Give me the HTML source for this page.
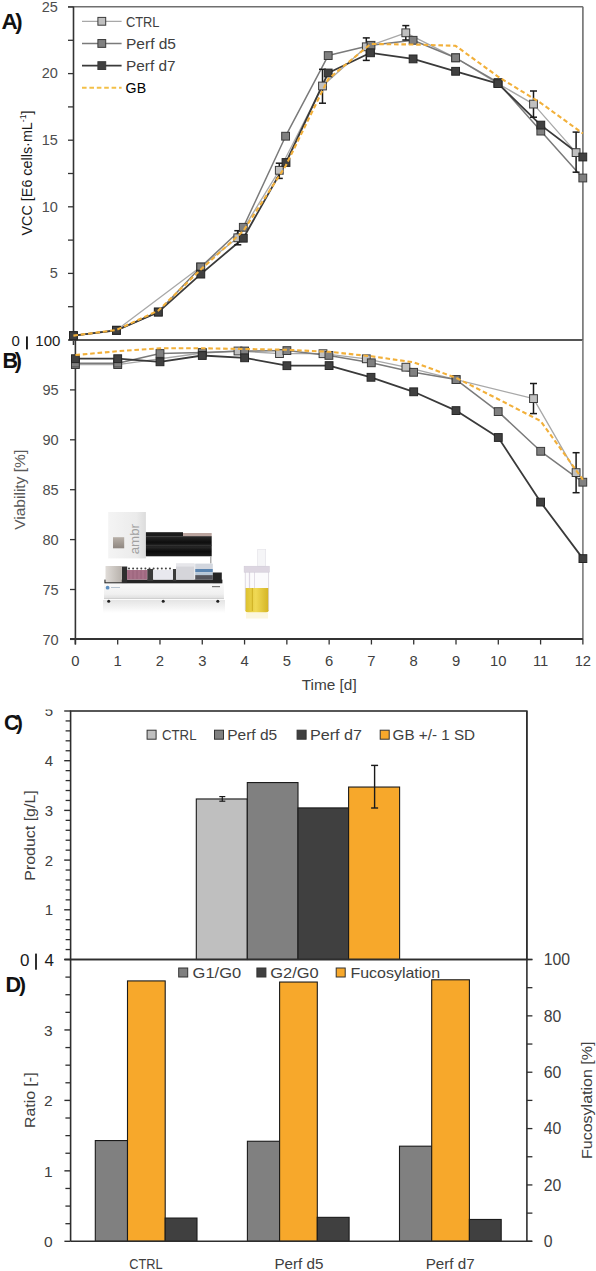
<!DOCTYPE html>
<html><head><meta charset="utf-8"><title>Figure</title>
<style>
html,body{margin:0;padding:0;background:#fff;}
body{width:596px;height:1271px;overflow:hidden;}
svg{display:block;font-family:"Liberation Sans", sans-serif;}
</style></head>
<body>
<svg width="596" height="1271" viewBox="0 0 596 1271">
<rect x="0" y="0" width="596" height="1271" fill="#ffffff"/>
<line x1="68" y1="6.8" x2="582.9" y2="6.8" stroke="#6f6f6f" stroke-width="1.6" />
<line x1="582.9" y1="6.8" x2="582.9" y2="340" stroke="#6f6f6f" stroke-width="1.6" />
<line x1="73.5" y1="6.8" x2="73.5" y2="345" stroke="#333333" stroke-width="1.6" />
<line x1="68" y1="340" x2="73.5" y2="340" stroke="#333333" stroke-width="1.3" />
<line x1="68" y1="306.7" x2="73.5" y2="306.7" stroke="#333333" stroke-width="1.3" />
<line x1="68" y1="273.4" x2="73.5" y2="273.4" stroke="#333333" stroke-width="1.3" />
<line x1="68" y1="240.1" x2="73.5" y2="240.1" stroke="#333333" stroke-width="1.3" />
<line x1="68" y1="206.8" x2="73.5" y2="206.8" stroke="#333333" stroke-width="1.3" />
<line x1="68" y1="173.5" x2="73.5" y2="173.5" stroke="#333333" stroke-width="1.3" />
<line x1="68" y1="140.2" x2="73.5" y2="140.2" stroke="#333333" stroke-width="1.3" />
<line x1="68" y1="106.9" x2="73.5" y2="106.9" stroke="#333333" stroke-width="1.3" />
<line x1="68" y1="73.6" x2="73.5" y2="73.6" stroke="#333333" stroke-width="1.3" />
<line x1="68" y1="40.3" x2="73.5" y2="40.3" stroke="#333333" stroke-width="1.3" />
<line x1="68" y1="7" x2="73.5" y2="7" stroke="#333333" stroke-width="1.3" />
<text x="57.8" y="11.7" font-size="14.5" fill="#4d4d4d" text-anchor="end" >25</text>
<text x="57.8" y="78.3" font-size="14.5" fill="#4d4d4d" text-anchor="end" >20</text>
<text x="57.8" y="144.9" font-size="14.5" fill="#4d4d4d" text-anchor="end" >15</text>
<text x="57.8" y="211.5" font-size="14.5" fill="#4d4d4d" text-anchor="end" >10</text>
<text x="57.8" y="278.1" font-size="14.5" fill="#4d4d4d" text-anchor="end" >5</text>
<text x="0" y="0" font-size="15" fill="#1a1a1a" transform="translate(31.8 173) rotate(-90)" text-anchor="middle" textLength="125" lengthAdjust="spacingAndGlyphs">VCC [E6 cells·mL<tspan font-size="9" dy="-6">-1</tspan><tspan dy="6">]</tspan></text>
<text x="1.6" y="29.4" font-size="22" fill="#111" text-anchor="start" font-weight="bold" textLength="16.2" lengthAdjust="spacingAndGlyphs" >A</text>
<text x="15.3" y="29.2" font-size="22" fill="#111" text-anchor="start" font-weight="bold" >)</text>
<line x1="68.5" y1="340" x2="582.9" y2="340" stroke="#555555" stroke-width="2" />
<text x="11.5" y="345.8" font-size="15" fill="#1a1a1a" text-anchor="start" >0</text>
<rect x="26" y="336.4" width="1.9" height="13" fill="#1a1a1a" />
<text x="35.3" y="345.8" font-size="15" fill="#1a1a1a" text-anchor="start" >100</text>
<polyline points="73.4,335.7 116.4,330.3 200.5,267 237.8,237.8 279.3,170.3 322.5,86 366.3,46.8 405.8,32.8 455.6,57.8 498,83.6 533.5,104.1 576.1,152.6" fill="none" stroke="#a8a8a8" stroke-width="1.3" stroke-linejoin="round" />
<polyline points="73.4,335.7 116.4,330.3 158.3,312 200.8,267 243.3,227.3 285.6,136.2 328.2,55.6 371,45.3 413.1,40.3 455.6,57.8 498,82.5 540.8,131.1 582.8,178" fill="none" stroke="#7a7a7a" stroke-width="1.5" stroke-linejoin="round" />
<polyline points="73.4,335.7 116.4,330.3 158.3,312.1 200.8,274.1 243.3,238.2 286,162.5 328.2,73 370.5,52.8 413.1,58.9 455.6,71.3 498,83.6 540.8,125.1 582.8,157" fill="none" stroke="#3a3a3a" stroke-width="1.8" stroke-linejoin="round" />
<line x1="237.8" y1="230.7" x2="237.8" y2="244.8" stroke="#1a1a1a" stroke-width="1.5" />
<line x1="234.3" y1="230.7" x2="241.3" y2="230.7" stroke="#1a1a1a" stroke-width="1.5" />
<line x1="234.3" y1="244.8" x2="241.3" y2="244.8" stroke="#1a1a1a" stroke-width="1.5" />
<line x1="279.3" y1="163.2" x2="279.3" y2="178.4" stroke="#1a1a1a" stroke-width="1.5" />
<line x1="275.8" y1="163.2" x2="282.8" y2="163.2" stroke="#1a1a1a" stroke-width="1.5" />
<line x1="275.8" y1="178.4" x2="282.8" y2="178.4" stroke="#1a1a1a" stroke-width="1.5" />
<line x1="322.5" y1="69.3" x2="322.5" y2="103.2" stroke="#1a1a1a" stroke-width="1.5" />
<line x1="319" y1="69.3" x2="326" y2="69.3" stroke="#1a1a1a" stroke-width="1.5" />
<line x1="319" y1="103.2" x2="326" y2="103.2" stroke="#1a1a1a" stroke-width="1.5" />
<line x1="366.3" y1="37.9" x2="366.3" y2="60.4" stroke="#1a1a1a" stroke-width="1.5" />
<line x1="362.8" y1="37.9" x2="369.8" y2="37.9" stroke="#1a1a1a" stroke-width="1.5" />
<line x1="362.8" y1="60.4" x2="369.8" y2="60.4" stroke="#1a1a1a" stroke-width="1.5" />
<line x1="405.8" y1="25.6" x2="405.8" y2="40" stroke="#1a1a1a" stroke-width="1.5" />
<line x1="402.3" y1="25.6" x2="409.3" y2="25.6" stroke="#1a1a1a" stroke-width="1.5" />
<line x1="402.3" y1="40" x2="409.3" y2="40" stroke="#1a1a1a" stroke-width="1.5" />
<line x1="533.5" y1="91" x2="533.5" y2="117.2" stroke="#1a1a1a" stroke-width="1.5" />
<line x1="530" y1="91" x2="537" y2="91" stroke="#1a1a1a" stroke-width="1.5" />
<line x1="530" y1="117.2" x2="537" y2="117.2" stroke="#1a1a1a" stroke-width="1.5" />
<line x1="576.1" y1="132.1" x2="576.1" y2="172.2" stroke="#1a1a1a" stroke-width="1.5" />
<line x1="572.6" y1="132.1" x2="579.6" y2="132.1" stroke="#1a1a1a" stroke-width="1.5" />
<line x1="572.6" y1="172.2" x2="579.6" y2="172.2" stroke="#1a1a1a" stroke-width="1.5" />
<rect x="69.5" y="331.8" width="7.8" height="7.8" fill="#c0c0c0" stroke="#3a3a3a" stroke-width="1" />
<rect x="112.5" y="326.4" width="7.8" height="7.8" fill="#c0c0c0" stroke="#3a3a3a" stroke-width="1" />
<rect x="196.6" y="263.1" width="7.8" height="7.8" fill="#c0c0c0" stroke="#3a3a3a" stroke-width="1" />
<rect x="233.9" y="233.9" width="7.8" height="7.8" fill="#c0c0c0" stroke="#3a3a3a" stroke-width="1" />
<rect x="275.4" y="166.4" width="7.8" height="7.8" fill="#c0c0c0" stroke="#3a3a3a" stroke-width="1" />
<rect x="318.6" y="82.1" width="7.8" height="7.8" fill="#c0c0c0" stroke="#3a3a3a" stroke-width="1" />
<rect x="362.4" y="42.9" width="7.8" height="7.8" fill="#c0c0c0" stroke="#3a3a3a" stroke-width="1" />
<rect x="401.9" y="28.9" width="7.8" height="7.8" fill="#c0c0c0" stroke="#3a3a3a" stroke-width="1" />
<rect x="451.7" y="53.9" width="7.8" height="7.8" fill="#c0c0c0" stroke="#3a3a3a" stroke-width="1" />
<rect x="494.1" y="79.7" width="7.8" height="7.8" fill="#c0c0c0" stroke="#3a3a3a" stroke-width="1" />
<rect x="529.6" y="100.2" width="7.8" height="7.8" fill="#c0c0c0" stroke="#3a3a3a" stroke-width="1" />
<rect x="572.2" y="148.7" width="7.8" height="7.8" fill="#c0c0c0" stroke="#3a3a3a" stroke-width="1" />
<rect x="69.5" y="331.8" width="7.8" height="7.8" fill="#808080" stroke="#3a3a3a" stroke-width="1" />
<rect x="112.5" y="326.4" width="7.8" height="7.8" fill="#808080" stroke="#3a3a3a" stroke-width="1" />
<rect x="154.4" y="308.1" width="7.8" height="7.8" fill="#808080" stroke="#3a3a3a" stroke-width="1" />
<rect x="196.9" y="263.1" width="7.8" height="7.8" fill="#808080" stroke="#3a3a3a" stroke-width="1" />
<rect x="239.4" y="223.4" width="7.8" height="7.8" fill="#808080" stroke="#3a3a3a" stroke-width="1" />
<rect x="281.7" y="132.3" width="7.8" height="7.8" fill="#808080" stroke="#3a3a3a" stroke-width="1" />
<rect x="324.3" y="51.7" width="7.8" height="7.8" fill="#808080" stroke="#3a3a3a" stroke-width="1" />
<rect x="367.1" y="41.4" width="7.8" height="7.8" fill="#808080" stroke="#3a3a3a" stroke-width="1" />
<rect x="409.2" y="36.4" width="7.8" height="7.8" fill="#808080" stroke="#3a3a3a" stroke-width="1" />
<rect x="451.7" y="53.9" width="7.8" height="7.8" fill="#808080" stroke="#3a3a3a" stroke-width="1" />
<rect x="494.1" y="78.6" width="7.8" height="7.8" fill="#808080" stroke="#3a3a3a" stroke-width="1" />
<rect x="536.9" y="127.2" width="7.8" height="7.8" fill="#808080" stroke="#3a3a3a" stroke-width="1" />
<rect x="578.9" y="174.1" width="7.8" height="7.8" fill="#808080" stroke="#3a3a3a" stroke-width="1" />
<rect x="69.5" y="331.8" width="7.8" height="7.8" fill="#404040" stroke="#262626" stroke-width="1" />
<rect x="112.5" y="326.4" width="7.8" height="7.8" fill="#404040" stroke="#262626" stroke-width="1" />
<rect x="154.4" y="308.2" width="7.8" height="7.8" fill="#404040" stroke="#262626" stroke-width="1" />
<rect x="196.9" y="270.2" width="7.8" height="7.8" fill="#404040" stroke="#262626" stroke-width="1" />
<rect x="239.4" y="234.3" width="7.8" height="7.8" fill="#404040" stroke="#262626" stroke-width="1" />
<rect x="282.1" y="158.6" width="7.8" height="7.8" fill="#404040" stroke="#262626" stroke-width="1" />
<rect x="324.3" y="69.1" width="7.8" height="7.8" fill="#404040" stroke="#262626" stroke-width="1" />
<rect x="366.6" y="48.9" width="7.8" height="7.8" fill="#404040" stroke="#262626" stroke-width="1" />
<rect x="409.2" y="55" width="7.8" height="7.8" fill="#404040" stroke="#262626" stroke-width="1" />
<rect x="451.7" y="67.4" width="7.8" height="7.8" fill="#404040" stroke="#262626" stroke-width="1" />
<rect x="494.1" y="79.7" width="7.8" height="7.8" fill="#404040" stroke="#262626" stroke-width="1" />
<rect x="536.9" y="121.2" width="7.8" height="7.8" fill="#404040" stroke="#262626" stroke-width="1" />
<rect x="578.9" y="153.1" width="7.8" height="7.8" fill="#404040" stroke="#262626" stroke-width="1" />
<polyline points="73.4,335.6 116.4,330 158.3,310.6 200.8,269.5 243.3,231 285.6,166 328.2,79 370.6,44 413.1,44.5 455.6,45.8 498,76.6 540.8,103 582.8,133.4" fill="none" stroke="#f2b03a" stroke-width="2.1" stroke-linejoin="round" stroke-dasharray="4.6 2.8"/>
<line x1="82" y1="21.3" x2="121.6" y2="21.3" stroke="#a8a8a8" stroke-width="1.3" />
<rect x="97.9" y="17.4" width="7.8" height="7.8" fill="#c0c0c0" stroke="#3a3a3a" stroke-width="1" />
<text x="126" y="26.5" font-size="14" fill="#404040" text-anchor="start" textLength="33.5" lengthAdjust="spacingAndGlyphs" >CTRL</text>
<line x1="82" y1="43.45" x2="121.6" y2="43.45" stroke="#7a7a7a" stroke-width="1.5" />
<rect x="97.9" y="39.55" width="7.8" height="7.8" fill="#808080" stroke="#3a3a3a" stroke-width="1" />
<text x="126" y="48.65" font-size="14" fill="#404040" text-anchor="start" textLength="50" lengthAdjust="spacingAndGlyphs" >Perf d5</text>
<line x1="82" y1="65.6" x2="121.6" y2="65.6" stroke="#3a3a3a" stroke-width="1.8" />
<rect x="97.9" y="61.7" width="7.8" height="7.8" fill="#404040" stroke="#3a3a3a" stroke-width="1" />
<text x="126" y="70.8" font-size="14" fill="#404040" text-anchor="start" textLength="49.5" lengthAdjust="spacingAndGlyphs" >Perf d7</text>
<line x1="82" y1="87.7" x2="121.6" y2="87.7" stroke="#f3c048" stroke-width="2" stroke-dasharray="4.6 2.8"/>
<text x="125.6" y="92.6" font-size="14" fill="#000" text-anchor="start" textLength="20.5" lengthAdjust="spacingAndGlyphs" >GB</text>
<line x1="582.9" y1="340" x2="582.9" y2="639" stroke="#7a7a7a" stroke-width="1.6" />
<line x1="75.4" y1="340" x2="75.4" y2="644.5" stroke="#333333" stroke-width="1.6" />
<line x1="70" y1="639" x2="582.9" y2="639" stroke="#333333" stroke-width="2" />
<line x1="70" y1="389.9" x2="75.4" y2="389.9" stroke="#333333" stroke-width="1.3" />
<text x="58.7" y="395.2" font-size="14.6" fill="#4d4d4d" text-anchor="end" >95</text>
<line x1="70" y1="439.8" x2="75.4" y2="439.8" stroke="#333333" stroke-width="1.3" />
<text x="58.7" y="445.1" font-size="14.6" fill="#4d4d4d" text-anchor="end" >90</text>
<line x1="70" y1="489.7" x2="75.4" y2="489.7" stroke="#333333" stroke-width="1.3" />
<text x="58.7" y="495" font-size="14.6" fill="#4d4d4d" text-anchor="end" >85</text>
<line x1="70" y1="539.6" x2="75.4" y2="539.6" stroke="#333333" stroke-width="1.3" />
<text x="58.7" y="544.9" font-size="14.6" fill="#4d4d4d" text-anchor="end" >80</text>
<line x1="70" y1="589.5" x2="75.4" y2="589.5" stroke="#333333" stroke-width="1.3" />
<text x="58.7" y="594.8" font-size="14.6" fill="#4d4d4d" text-anchor="end" >75</text>
<line x1="70" y1="639.4" x2="75.4" y2="639.4" stroke="#333333" stroke-width="1.3" />
<text x="58.7" y="644.7" font-size="14.6" fill="#4d4d4d" text-anchor="end" >70</text>
<line x1="75.4" y1="639" x2="75.4" y2="644.5" stroke="#333333" stroke-width="1.3" />
<text x="75.4" y="665.6" font-size="14.8" fill="#404040" text-anchor="middle" >0</text>
<line x1="117.69" y1="639" x2="117.69" y2="644.5" stroke="#333333" stroke-width="1.3" />
<text x="117.69" y="665.6" font-size="14.8" fill="#404040" text-anchor="middle" >1</text>
<line x1="159.98" y1="639" x2="159.98" y2="644.5" stroke="#333333" stroke-width="1.3" />
<text x="159.98" y="665.6" font-size="14.8" fill="#404040" text-anchor="middle" >2</text>
<line x1="202.27" y1="639" x2="202.27" y2="644.5" stroke="#333333" stroke-width="1.3" />
<text x="202.27" y="665.6" font-size="14.8" fill="#404040" text-anchor="middle" >3</text>
<line x1="244.56" y1="639" x2="244.56" y2="644.5" stroke="#333333" stroke-width="1.3" />
<text x="244.56" y="665.6" font-size="14.8" fill="#404040" text-anchor="middle" >4</text>
<line x1="286.85" y1="639" x2="286.85" y2="644.5" stroke="#333333" stroke-width="1.3" />
<text x="286.85" y="665.6" font-size="14.8" fill="#404040" text-anchor="middle" >5</text>
<line x1="329.14" y1="639" x2="329.14" y2="644.5" stroke="#333333" stroke-width="1.3" />
<text x="329.14" y="665.6" font-size="14.8" fill="#404040" text-anchor="middle" >6</text>
<line x1="371.43" y1="639" x2="371.43" y2="644.5" stroke="#333333" stroke-width="1.3" />
<text x="371.43" y="665.6" font-size="14.8" fill="#404040" text-anchor="middle" >7</text>
<line x1="413.72" y1="639" x2="413.72" y2="644.5" stroke="#333333" stroke-width="1.3" />
<text x="413.72" y="665.6" font-size="14.8" fill="#404040" text-anchor="middle" >8</text>
<line x1="456.01" y1="639" x2="456.01" y2="644.5" stroke="#333333" stroke-width="1.3" />
<text x="456.01" y="665.6" font-size="14.8" fill="#404040" text-anchor="middle" >9</text>
<line x1="498.3" y1="639" x2="498.3" y2="644.5" stroke="#333333" stroke-width="1.3" />
<text x="498.3" y="665.6" font-size="14.8" fill="#404040" text-anchor="middle" >10</text>
<line x1="540.59" y1="639" x2="540.59" y2="644.5" stroke="#333333" stroke-width="1.3" />
<text x="540.59" y="665.6" font-size="14.8" fill="#404040" text-anchor="middle" >11</text>
<line x1="582.88" y1="639" x2="582.88" y2="644.5" stroke="#333333" stroke-width="1.3" />
<text x="582.88" y="665.6" font-size="14.8" fill="#404040" text-anchor="middle" >12</text>
<text x="329.2" y="690.3" font-size="15" fill="#404040" text-anchor="middle" textLength="55" lengthAdjust="spacingAndGlyphs" >Time [d]</text>
<text x="0" y="0" font-size="14.4" fill="#595959" transform="translate(24.7 489.8) rotate(-90)" text-anchor="middle" textLength="80" lengthAdjust="spacingAndGlyphs">Viability [%]</text>
<text x="2.6" y="368" font-size="21.5" fill="#111" text-anchor="start" font-weight="bold" >B</text>
<text x="14.8" y="368" font-size="21.5" fill="#111" text-anchor="start" font-weight="bold" >)</text>
<g>
<defs><linearGradient id="refl" x1="0" y1="0" x2="0" y2="1"><stop offset="0" stop-color="#e4e4e4"/><stop offset="1" stop-color="#ffffff"/></linearGradient><linearGradient id="tower" x1="0" y1="0" x2="1" y2="0"><stop offset="0" stop-color="#f4f4f4"/><stop offset="0.75" stop-color="#ebebeb"/><stop offset="1" stop-color="#dcdcdc"/></linearGradient><linearGradient id="gantry" x1="0" y1="0" x2="0" y2="1"><stop offset="0" stop-color="#2a2a2a"/><stop offset="0.3" stop-color="#0e0e0e"/><stop offset="0.55" stop-color="#262626"/><stop offset="0.75" stop-color="#0a0a0a"/><stop offset="1" stop-color="#1a1a1a"/></linearGradient><linearGradient id="win" x1="0" y1="0" x2="0" y2="1"><stop offset="0" stop-color="#b8b0a8"/><stop offset="1" stop-color="#8e8680"/></linearGradient><linearGradient id="blk" x1="0" y1="0" x2="1" y2="0"><stop offset="0" stop-color="#e0dcd8"/><stop offset="1" stop-color="#b8b2ac"/></linearGradient><linearGradient id="base" x1="0" y1="0" x2="0" y2="1"><stop offset="0" stop-color="#fafafa"/><stop offset="0.7" stop-color="#f0f0f0"/><stop offset="1" stop-color="#dedede"/></linearGradient><linearGradient id="liq" x1="0" y1="0" x2="1" y2="0"><stop offset="0" stop-color="#dcc02c"/><stop offset="0.45" stop-color="#f0d955"/><stop offset="1" stop-color="#d4b424"/></linearGradient></defs>
<rect x="103" y="600" width="122" height="13" fill="url(#refl)" />
<rect x="108.2" y="512" width="37.7" height="46.4" fill="url(#tower)" />
<rect x="113" y="537.2" width="11.2" height="11.1" fill="url(#win)" />
<text x="0" y="0" font-size="12.5" fill="#a0a0a0" transform="translate(139.3 554.3) rotate(-90)" textLength="30.3" lengthAdjust="spacingAndGlyphs">ambr</text>
<rect x="145.9" y="532.2" width="37.1" height="4.2" fill="#1c1c1c" />
<rect x="183" y="533" width="28.7" height="3.6" fill="#bba59f" />
<rect x="145.9" y="536.2" width="65.8" height="20.1" fill="url(#gantry)" />
<line x1="146" y1="545.3" x2="211.7" y2="545.3" stroke="#3c3c3c" stroke-width="0.8" />
<line x1="210.8" y1="556.3" x2="210.8" y2="563.6" stroke="#9a9a9a" stroke-width="1.2" />
<rect x="104.4" y="579.6" width="118" height="4.2" fill="#262626" />
<rect x="121.8" y="566.5" width="5.4" height="17" fill="#2e2e2e" />
<rect x="105.5" y="566" width="16.3" height="16.3" fill="url(#blk)" />
<rect x="147.2" y="569" width="6" height="12" fill="#3a3a3a" />
<rect x="172.9" y="569" width="3.4" height="12" fill="#3a3a3a" />
<rect x="127" y="570" width="20.2" height="9.6" fill="#a87088" />
<line x1="129" y1="570.5" x2="129" y2="579" stroke="#8e5a72" stroke-width="0.6" />
<line x1="133" y1="570.5" x2="133" y2="579" stroke="#8e5a72" stroke-width="0.6" />
<line x1="137" y1="570.5" x2="137" y2="579" stroke="#8e5a72" stroke-width="0.6" />
<line x1="141" y1="570.5" x2="141" y2="579" stroke="#8e5a72" stroke-width="0.6" />
<line x1="145" y1="570.5" x2="145" y2="579" stroke="#8e5a72" stroke-width="0.6" />
<rect x="153.2" y="570" width="19.7" height="9.6" fill="#e8e8ee" />
<circle cx="129.0" cy="568.5" r="1" fill="#444"/>
<circle cx="133.1" cy="568.5" r="1" fill="#444"/>
<circle cx="137.2" cy="568.5" r="1" fill="#444"/>
<circle cx="141.3" cy="568.5" r="1" fill="#444"/>
<circle cx="145.4" cy="568.5" r="1" fill="#444"/>
<circle cx="149.5" cy="568.5" r="1" fill="#444"/>
<circle cx="153.6" cy="568.5" r="1" fill="#444"/>
<circle cx="157.7" cy="568.5" r="1" fill="#444"/>
<circle cx="161.8" cy="568.5" r="1" fill="#444"/>
<circle cx="165.9" cy="568.5" r="1" fill="#444"/>
<circle cx="170.0" cy="568.5" r="1" fill="#444"/>
<rect x="176" y="563.6" width="18.5" height="16.1" fill="#d5d5da" />
<rect x="176" y="563.6" width="18.5" height="3" fill="#e6e6ea" />
<rect x="195.2" y="563.6" width="17.6" height="5.4" fill="#d2d6de" />
<rect x="195.2" y="569" width="17.6" height="3.1" fill="#5a84b0" />
<rect x="195.2" y="572.1" width="17.6" height="3" fill="#b6c6d6" />
<rect x="195.2" y="575.1" width="17.6" height="4.6" fill="#55555c" />
<rect x="212.8" y="572.5" width="9" height="11" fill="#242424" />
<rect x="104" y="583.4" width="119.9" height="15.2" fill="url(#base)" />
<line x1="104" y1="598.6" x2="223.9" y2="598.6" stroke="#c4c4c4" stroke-width="0.8" />
<circle cx="107.6" cy="587.7" r="1.9" fill="#5d8fc0"/>
<rect x="111" y="587" width="9" height="1" fill="#b8c4d0"/>
<rect x="212" y="586" width="8" height="1.2" fill="#777"/>
<circle cx="108.7" cy="601.2" r="1.5" fill="#222"/>
<circle cx="163.2" cy="601.2" r="1.5" fill="#222"/>
<circle cx="217.8" cy="601.2" r="1.5" fill="#222"/>
<rect x="257.7" y="549.6" width="8" height="17" fill="#f5f5f7" stroke="#e2e0e6" stroke-width="0.6" />
<rect x="245.1" y="572" width="23.7" height="16" fill="#fbfafc" />
<path d="M245.1,588 L268.8,588 L268.8,609.5 Q268.8,612.5 265.8,612.5 L248.1,612.5 Q245.1,612.5 245.1,609.5 Z" fill="url(#liq)"/>
<line x1="245.3" y1="571" x2="245.3" y2="610" stroke="#d6d0da" stroke-width="0.8" />
<line x1="268.6" y1="571" x2="268.6" y2="610" stroke="#d6d0da" stroke-width="0.8" />
<line x1="249.5" y1="572" x2="249.5" y2="588" stroke="#ddd6e2" stroke-width="1.2" />
<line x1="254.5" y1="572" x2="254.5" y2="588" stroke="#e2dce6" stroke-width="1" />
<line x1="252.3" y1="588" x2="252.3" y2="611" stroke="#c8aa1e" stroke-width="0.9" />
<rect x="244.1" y="566.2" width="25.2" height="6" fill="#ddd6e1" stroke="#cfc8d4" stroke-width="0.5" />
<rect x="246" y="612.5" width="22" height="6" fill="#fbf6e0" />
</g>
<polyline points="75.4,364.6 117.7,364.6 202.3,353 238,351 279.5,353.6 323,353.7 366.3,358.8 405.9,367.2 456.1,379.6 533.5,398.6 576.1,472.6" fill="none" stroke="#a8a8a8" stroke-width="1.3" stroke-linejoin="round" />
<polyline points="75.4,363.2 117.7,363.2 160,353.5 202.3,352.5 244.6,351 286.9,350.6 328.9,355.4 371.3,362.8 413.6,372.3 456.1,379.6 498.2,411.6 540.7,451.3 582.8,482.2" fill="none" stroke="#7a7a7a" stroke-width="1.5" stroke-linejoin="round" />
<polyline points="75.4,358.7 117.7,358.7 160,361.8 202.3,355.5 244.6,357.8 286.9,365.7 329.1,365.6 371,377.3 413.7,391.8 456,410.6 498.3,437.5 540.6,502.1 582.9,558.6" fill="none" stroke="#3a3a3a" stroke-width="1.8" stroke-linejoin="round" />
<line x1="533.5" y1="383.5" x2="533.5" y2="413.6" stroke="#1a1a1a" stroke-width="1.5" />
<line x1="530" y1="383.5" x2="537" y2="383.5" stroke="#1a1a1a" stroke-width="1.5" />
<line x1="530" y1="413.6" x2="537" y2="413.6" stroke="#1a1a1a" stroke-width="1.5" />
<line x1="576.1" y1="452.7" x2="576.1" y2="492.7" stroke="#1a1a1a" stroke-width="1.5" />
<line x1="572.6" y1="452.7" x2="579.6" y2="452.7" stroke="#1a1a1a" stroke-width="1.5" />
<line x1="572.6" y1="492.7" x2="579.6" y2="492.7" stroke="#1a1a1a" stroke-width="1.5" />
<rect x="71.5" y="360.7" width="7.8" height="7.8" fill="#c0c0c0" stroke="#3a3a3a" stroke-width="1" />
<rect x="113.8" y="360.7" width="7.8" height="7.8" fill="#c0c0c0" stroke="#3a3a3a" stroke-width="1" />
<rect x="198.4" y="349.1" width="7.8" height="7.8" fill="#c0c0c0" stroke="#3a3a3a" stroke-width="1" />
<rect x="234.1" y="347.1" width="7.8" height="7.8" fill="#c0c0c0" stroke="#3a3a3a" stroke-width="1" />
<rect x="275.6" y="349.7" width="7.8" height="7.8" fill="#c0c0c0" stroke="#3a3a3a" stroke-width="1" />
<rect x="319.1" y="349.8" width="7.8" height="7.8" fill="#c0c0c0" stroke="#3a3a3a" stroke-width="1" />
<rect x="362.4" y="354.9" width="7.8" height="7.8" fill="#c0c0c0" stroke="#3a3a3a" stroke-width="1" />
<rect x="402" y="363.3" width="7.8" height="7.8" fill="#c0c0c0" stroke="#3a3a3a" stroke-width="1" />
<rect x="452.2" y="375.7" width="7.8" height="7.8" fill="#c0c0c0" stroke="#3a3a3a" stroke-width="1" />
<rect x="529.6" y="394.7" width="7.8" height="7.8" fill="#c0c0c0" stroke="#3a3a3a" stroke-width="1" />
<rect x="572.2" y="468.7" width="7.8" height="7.8" fill="#c0c0c0" stroke="#3a3a3a" stroke-width="1" />
<rect x="71.5" y="359.3" width="7.8" height="7.8" fill="#808080" stroke="#3a3a3a" stroke-width="1" />
<rect x="113.8" y="359.3" width="7.8" height="7.8" fill="#808080" stroke="#3a3a3a" stroke-width="1" />
<rect x="156.1" y="349.6" width="7.8" height="7.8" fill="#808080" stroke="#3a3a3a" stroke-width="1" />
<rect x="198.4" y="348.6" width="7.8" height="7.8" fill="#808080" stroke="#3a3a3a" stroke-width="1" />
<rect x="240.7" y="347.1" width="7.8" height="7.8" fill="#808080" stroke="#3a3a3a" stroke-width="1" />
<rect x="283" y="346.7" width="7.8" height="7.8" fill="#808080" stroke="#3a3a3a" stroke-width="1" />
<rect x="325" y="351.5" width="7.8" height="7.8" fill="#808080" stroke="#3a3a3a" stroke-width="1" />
<rect x="367.4" y="358.9" width="7.8" height="7.8" fill="#808080" stroke="#3a3a3a" stroke-width="1" />
<rect x="409.7" y="368.4" width="7.8" height="7.8" fill="#808080" stroke="#3a3a3a" stroke-width="1" />
<rect x="452.2" y="375.7" width="7.8" height="7.8" fill="#808080" stroke="#3a3a3a" stroke-width="1" />
<rect x="494.3" y="407.7" width="7.8" height="7.8" fill="#808080" stroke="#3a3a3a" stroke-width="1" />
<rect x="536.8" y="447.4" width="7.8" height="7.8" fill="#808080" stroke="#3a3a3a" stroke-width="1" />
<rect x="578.9" y="478.3" width="7.8" height="7.8" fill="#808080" stroke="#3a3a3a" stroke-width="1" />
<rect x="71.5" y="354.8" width="7.8" height="7.8" fill="#404040" stroke="#262626" stroke-width="1" />
<rect x="113.8" y="354.8" width="7.8" height="7.8" fill="#404040" stroke="#262626" stroke-width="1" />
<rect x="156.1" y="357.9" width="7.8" height="7.8" fill="#404040" stroke="#262626" stroke-width="1" />
<rect x="198.4" y="351.6" width="7.8" height="7.8" fill="#404040" stroke="#262626" stroke-width="1" />
<rect x="240.7" y="353.9" width="7.8" height="7.8" fill="#404040" stroke="#262626" stroke-width="1" />
<rect x="283" y="361.8" width="7.8" height="7.8" fill="#404040" stroke="#262626" stroke-width="1" />
<rect x="325.2" y="361.7" width="7.8" height="7.8" fill="#404040" stroke="#262626" stroke-width="1" />
<rect x="367.1" y="373.4" width="7.8" height="7.8" fill="#404040" stroke="#262626" stroke-width="1" />
<rect x="409.8" y="387.9" width="7.8" height="7.8" fill="#404040" stroke="#262626" stroke-width="1" />
<rect x="452.1" y="406.7" width="7.8" height="7.8" fill="#404040" stroke="#262626" stroke-width="1" />
<rect x="494.4" y="433.6" width="7.8" height="7.8" fill="#404040" stroke="#262626" stroke-width="1" />
<rect x="536.7" y="498.2" width="7.8" height="7.8" fill="#404040" stroke="#262626" stroke-width="1" />
<rect x="579" y="554.7" width="7.8" height="7.8" fill="#404040" stroke="#262626" stroke-width="1" />
<polyline points="75.4,355 117.7,351.2 160,348.3 202.3,348.3 244.6,349 286.9,349.8 329.1,351.8 371.4,356.3 413.7,362.3 456,377.8 498.3,399.2 540.6,421 582.9,479.6" fill="none" stroke="#f2b03a" stroke-width="2.1" stroke-linejoin="round" stroke-dasharray="4.6 2.8"/>
<rect x="196.3" y="798.97" width="51" height="160.53" fill="#bfbfbf" stroke="#1a1a1a" stroke-width="1.1" />
<rect x="247.3" y="782.57" width="50.7" height="176.93" fill="#808080" stroke="#1a1a1a" stroke-width="1.1" />
<rect x="298" y="807.91" width="50.6" height="151.59" fill="#404040" stroke="#1a1a1a" stroke-width="1.1" />
<rect x="348.6" y="787.04" width="51" height="172.46" fill="#f7a82b" stroke="#1a1a1a" stroke-width="1.1" />
<line x1="222.3" y1="796.6" x2="222.3" y2="801.2" stroke="#1a1a1a" stroke-width="1.2" />
<line x1="219.3" y1="796.6" x2="225.3" y2="796.6" stroke="#1a1a1a" stroke-width="1.2" />
<line x1="219.3" y1="801.2" x2="225.3" y2="801.2" stroke="#1a1a1a" stroke-width="1.2" />
<line x1="374.6" y1="765.4" x2="374.6" y2="808" stroke="#1a1a1a" stroke-width="1.4" />
<line x1="371.1" y1="765.4" x2="378.1" y2="765.4" stroke="#1a1a1a" stroke-width="1.4" />
<line x1="371.1" y1="808" x2="378.1" y2="808" stroke="#1a1a1a" stroke-width="1.4" />
<rect x="70.6" y="711.0" width="456.2" height="248.5" fill="none" stroke="#2e2e2e" stroke-width="1.6"/>
<line x1="64.2" y1="959.5" x2="70.6" y2="959.5" stroke="#2e2e2e" stroke-width="1.4" />
<line x1="65.6" y1="949.56" x2="70.6" y2="949.56" stroke="#2e2e2e" stroke-width="1.3" />
<line x1="65.6" y1="939.62" x2="70.6" y2="939.62" stroke="#2e2e2e" stroke-width="1.3" />
<line x1="65.6" y1="929.68" x2="70.6" y2="929.68" stroke="#2e2e2e" stroke-width="1.3" />
<line x1="65.6" y1="919.74" x2="70.6" y2="919.74" stroke="#2e2e2e" stroke-width="1.3" />
<line x1="64.2" y1="909.8" x2="70.6" y2="909.8" stroke="#2e2e2e" stroke-width="1.4" />
<line x1="65.6" y1="899.86" x2="70.6" y2="899.86" stroke="#2e2e2e" stroke-width="1.3" />
<line x1="65.6" y1="889.92" x2="70.6" y2="889.92" stroke="#2e2e2e" stroke-width="1.3" />
<line x1="65.6" y1="879.98" x2="70.6" y2="879.98" stroke="#2e2e2e" stroke-width="1.3" />
<line x1="65.6" y1="870.04" x2="70.6" y2="870.04" stroke="#2e2e2e" stroke-width="1.3" />
<line x1="64.2" y1="860.1" x2="70.6" y2="860.1" stroke="#2e2e2e" stroke-width="1.4" />
<line x1="65.6" y1="850.16" x2="70.6" y2="850.16" stroke="#2e2e2e" stroke-width="1.3" />
<line x1="65.6" y1="840.22" x2="70.6" y2="840.22" stroke="#2e2e2e" stroke-width="1.3" />
<line x1="65.6" y1="830.28" x2="70.6" y2="830.28" stroke="#2e2e2e" stroke-width="1.3" />
<line x1="65.6" y1="820.34" x2="70.6" y2="820.34" stroke="#2e2e2e" stroke-width="1.3" />
<line x1="64.2" y1="810.4" x2="70.6" y2="810.4" stroke="#2e2e2e" stroke-width="1.4" />
<line x1="65.6" y1="800.46" x2="70.6" y2="800.46" stroke="#2e2e2e" stroke-width="1.3" />
<line x1="65.6" y1="790.52" x2="70.6" y2="790.52" stroke="#2e2e2e" stroke-width="1.3" />
<line x1="65.6" y1="780.58" x2="70.6" y2="780.58" stroke="#2e2e2e" stroke-width="1.3" />
<line x1="65.6" y1="770.64" x2="70.6" y2="770.64" stroke="#2e2e2e" stroke-width="1.3" />
<line x1="64.2" y1="760.7" x2="70.6" y2="760.7" stroke="#2e2e2e" stroke-width="1.4" />
<line x1="65.6" y1="750.76" x2="70.6" y2="750.76" stroke="#2e2e2e" stroke-width="1.3" />
<line x1="65.6" y1="740.82" x2="70.6" y2="740.82" stroke="#2e2e2e" stroke-width="1.3" />
<line x1="65.6" y1="730.88" x2="70.6" y2="730.88" stroke="#2e2e2e" stroke-width="1.3" />
<line x1="65.6" y1="720.94" x2="70.6" y2="720.94" stroke="#2e2e2e" stroke-width="1.3" />
<line x1="64.2" y1="711" x2="70.6" y2="711" stroke="#2e2e2e" stroke-width="1.4" />
<text x="53" y="766.1" font-size="15" fill="#404040" text-anchor="end" >4</text>
<text x="53" y="815.8" font-size="15" fill="#404040" text-anchor="end" >3</text>
<text x="53" y="865.5" font-size="15" fill="#404040" text-anchor="end" >2</text>
<text x="53" y="915.2" font-size="15" fill="#404040" text-anchor="end" >1</text>
<clipPath id="clip5"><rect x="0" y="709.6" width="100" height="20"/></clipPath>
<text x="53" y="716.4" font-size="15" fill="#404040" text-anchor="end" clip-path="url(#clip5)">5</text>
<text x="0" y="0" font-size="15" fill="#404040" transform="translate(35.3 835.5) rotate(-90)" text-anchor="middle" textLength="90.5" lengthAdjust="spacingAndGlyphs">Product [g/L]</text>
<text x="4" y="730" font-size="21.2" fill="#111" text-anchor="start" font-weight="bold" >C</text>
<text x="15.9" y="730.2" font-size="20.6" fill="#111" text-anchor="start" font-weight="bold" >)</text>
<rect x="147.1" y="730.2" width="9" height="9" fill="#bfbfbf" stroke="#333" stroke-width="1" />
<text x="162" y="740.2" font-size="14.8" fill="#404040" text-anchor="start" textLength="34.5" lengthAdjust="spacingAndGlyphs" >CTRL</text>
<rect x="214.5" y="730.2" width="9" height="9" fill="#808080" stroke="#333" stroke-width="1" />
<text x="227.2" y="740.2" font-size="14.8" fill="#404040" text-anchor="start" textLength="50" lengthAdjust="spacingAndGlyphs" >Perf d5</text>
<rect x="297.1" y="730.2" width="9" height="9" fill="#404040" stroke="#333" stroke-width="1" />
<text x="310" y="740.2" font-size="14.8" fill="#404040" text-anchor="start" textLength="52" lengthAdjust="spacingAndGlyphs" >Perf d7</text>
<rect x="380.2" y="730.2" width="9" height="9" fill="#f7a82b" stroke="#333" stroke-width="1" />
<text x="392.6" y="740.2" font-size="14.8" fill="#404040" text-anchor="start" textLength="82.5" lengthAdjust="spacingAndGlyphs" >GB +/- 1 SD</text>
<text x="19.9" y="965.6" font-size="17" fill="#1a1a1a" text-anchor="start" >0</text>
<rect x="35.1" y="953.6" width="1.8" height="16.1" fill="#1a1a1a" />
<text x="44.4" y="965.6" font-size="17" fill="#1a1a1a" text-anchor="start" >4</text>
<rect x="95.3" y="1140.56" width="32.2" height="100.74" fill="#808080" stroke="#1a1a1a" stroke-width="1.1" />
<rect x="127.5" y="980.92" width="37.7" height="260.38" fill="#f7a82b" stroke="#1a1a1a" stroke-width="1.1" />
<rect x="165.2" y="1218.05" width="31.8" height="23.25" fill="#404040" stroke="#1a1a1a" stroke-width="1.1" />
<rect x="247.4" y="1141.26" width="32.2" height="100.04" fill="#808080" stroke="#1a1a1a" stroke-width="1.1" />
<rect x="279.6" y="982.04" width="37.7" height="259.26" fill="#f7a82b" stroke="#1a1a1a" stroke-width="1.1" />
<rect x="317.3" y="1217.35" width="31.8" height="23.95" fill="#404040" stroke="#1a1a1a" stroke-width="1.1" />
<rect x="399.5" y="1146.19" width="32.2" height="95.11" fill="#808080" stroke="#1a1a1a" stroke-width="1.1" />
<rect x="431.7" y="979.79" width="37.7" height="261.51" fill="#f7a82b" stroke="#1a1a1a" stroke-width="1.1" />
<rect x="469.4" y="1219.46" width="31.8" height="21.84" fill="#404040" stroke="#1a1a1a" stroke-width="1.1" />
<line x1="70.6" y1="959.5" x2="70.6" y2="1241.3" stroke="#2e2e2e" stroke-width="1.6" />
<line x1="526.9" y1="959.5" x2="526.9" y2="1241.3" stroke="#2e2e2e" stroke-width="1.6" />
<line x1="70.6" y1="1241.3" x2="532.2" y2="1241.3" stroke="#2e2e2e" stroke-width="1.6" />
<line x1="64.6" y1="959.5" x2="532.4" y2="959.5" stroke="#2e2e2e" stroke-width="1.6" />
<line x1="526.8" y1="711" x2="526.8" y2="959.5" stroke="#2e2e2e" stroke-width="1.6" />
<line x1="64.4" y1="1241.3" x2="70.6" y2="1241.3" stroke="#2e2e2e" stroke-width="1.4" />
<line x1="65.4" y1="1223.69" x2="70.6" y2="1223.69" stroke="#2e2e2e" stroke-width="1.3" />
<line x1="65.4" y1="1206.08" x2="70.6" y2="1206.08" stroke="#2e2e2e" stroke-width="1.3" />
<line x1="65.4" y1="1188.46" x2="70.6" y2="1188.46" stroke="#2e2e2e" stroke-width="1.3" />
<line x1="64.4" y1="1170.85" x2="70.6" y2="1170.85" stroke="#2e2e2e" stroke-width="1.4" />
<line x1="65.4" y1="1153.24" x2="70.6" y2="1153.24" stroke="#2e2e2e" stroke-width="1.3" />
<line x1="65.4" y1="1135.62" x2="70.6" y2="1135.62" stroke="#2e2e2e" stroke-width="1.3" />
<line x1="65.4" y1="1118.01" x2="70.6" y2="1118.01" stroke="#2e2e2e" stroke-width="1.3" />
<line x1="64.4" y1="1100.4" x2="70.6" y2="1100.4" stroke="#2e2e2e" stroke-width="1.4" />
<line x1="65.4" y1="1082.79" x2="70.6" y2="1082.79" stroke="#2e2e2e" stroke-width="1.3" />
<line x1="65.4" y1="1065.17" x2="70.6" y2="1065.17" stroke="#2e2e2e" stroke-width="1.3" />
<line x1="65.4" y1="1047.56" x2="70.6" y2="1047.56" stroke="#2e2e2e" stroke-width="1.3" />
<line x1="64.4" y1="1029.95" x2="70.6" y2="1029.95" stroke="#2e2e2e" stroke-width="1.4" />
<line x1="65.4" y1="1012.34" x2="70.6" y2="1012.34" stroke="#2e2e2e" stroke-width="1.3" />
<line x1="65.4" y1="994.73" x2="70.6" y2="994.73" stroke="#2e2e2e" stroke-width="1.3" />
<line x1="65.4" y1="977.11" x2="70.6" y2="977.11" stroke="#2e2e2e" stroke-width="1.3" />
<line x1="64.4" y1="959.5" x2="70.6" y2="959.5" stroke="#2e2e2e" stroke-width="1.4" />
<line x1="526.9" y1="1241.3" x2="532.4" y2="1241.3" stroke="#2e2e2e" stroke-width="1.3" />
<line x1="526.9" y1="1213.12" x2="532.4" y2="1213.12" stroke="#2e2e2e" stroke-width="1.3" />
<line x1="526.9" y1="1184.94" x2="532.4" y2="1184.94" stroke="#2e2e2e" stroke-width="1.3" />
<line x1="526.9" y1="1156.76" x2="532.4" y2="1156.76" stroke="#2e2e2e" stroke-width="1.3" />
<line x1="526.9" y1="1128.58" x2="532.4" y2="1128.58" stroke="#2e2e2e" stroke-width="1.3" />
<line x1="526.9" y1="1100.4" x2="532.4" y2="1100.4" stroke="#2e2e2e" stroke-width="1.3" />
<line x1="526.9" y1="1072.22" x2="532.4" y2="1072.22" stroke="#2e2e2e" stroke-width="1.3" />
<line x1="526.9" y1="1044.04" x2="532.4" y2="1044.04" stroke="#2e2e2e" stroke-width="1.3" />
<line x1="526.9" y1="1015.86" x2="532.4" y2="1015.86" stroke="#2e2e2e" stroke-width="1.3" />
<line x1="526.9" y1="987.68" x2="532.4" y2="987.68" stroke="#2e2e2e" stroke-width="1.3" />
<line x1="526.9" y1="959.5" x2="532.4" y2="959.5" stroke="#2e2e2e" stroke-width="1.3" />
<text x="52.6" y="1035.65" font-size="15.5" fill="#404040" text-anchor="end" >3</text>
<text x="52.6" y="1106.1" font-size="15.5" fill="#404040" text-anchor="end" >2</text>
<text x="52.6" y="1176.55" font-size="15.5" fill="#404040" text-anchor="end" >1</text>
<text x="52.6" y="1247" font-size="15.5" fill="#404040" text-anchor="end" >0</text>
<text x="543.8" y="965.3" font-size="15.8" fill="#404040" text-anchor="start" >100</text>
<text x="543.8" y="1021.66" font-size="15.8" fill="#404040" text-anchor="start" >80</text>
<text x="543.8" y="1078.02" font-size="15.8" fill="#404040" text-anchor="start" >60</text>
<text x="543.8" y="1134.38" font-size="15.8" fill="#404040" text-anchor="start" >40</text>
<text x="543.8" y="1190.74" font-size="15.8" fill="#404040" text-anchor="start" >20</text>
<text x="543.8" y="1247.1" font-size="15.8" fill="#404040" text-anchor="start" >0</text>
<text x="0" y="0" font-size="15" fill="#404040" transform="translate(35.3 1100.2) rotate(-90)" text-anchor="middle" textLength="55.5" lengthAdjust="spacingAndGlyphs">Ratio [-]</text>
<text x="0" y="0" font-size="15" fill="#404040" transform="translate(592 1100.3) rotate(-90)" text-anchor="middle" textLength="117.5" lengthAdjust="spacingAndGlyphs">Fucosylation [%]</text>
<text x="5.6" y="992" font-size="21.6" fill="#111" text-anchor="start" font-weight="bold" >D</text>
<text x="19" y="992" font-size="21" fill="#111" text-anchor="start" font-weight="bold" >)</text>
<rect x="178.7" y="968" width="9" height="9" fill="#808080" stroke="#333" stroke-width="1" />
<text x="192.6" y="978" font-size="14.8" fill="#404040" text-anchor="start" textLength="48.5" lengthAdjust="spacingAndGlyphs" >G1/G0</text>
<rect x="256.9" y="968" width="9" height="9" fill="#404040" stroke="#333" stroke-width="1" />
<text x="270.2" y="978" font-size="14.8" fill="#404040" text-anchor="start" textLength="48.5" lengthAdjust="spacingAndGlyphs" >G2/G0</text>
<rect x="336.2" y="968" width="9" height="9" fill="#f7a82b" stroke="#333" stroke-width="1" />
<text x="350.4" y="978" font-size="14.8" fill="#404040" text-anchor="start" textLength="89.7" lengthAdjust="spacingAndGlyphs" >Fucosylation</text>
<text x="146" y="1268.8" font-size="14.5" fill="#404040" text-anchor="middle" textLength="33.4" lengthAdjust="spacingAndGlyphs" >CTRL</text>
<text x="298.9" y="1268.8" font-size="14.5" fill="#404040" text-anchor="middle" textLength="49" lengthAdjust="spacingAndGlyphs" >Perf d5</text>
<text x="450.2" y="1268.8" font-size="14.5" fill="#404040" text-anchor="middle" textLength="49" lengthAdjust="spacingAndGlyphs" >Perf d7</text>
</svg>
</body></html>
